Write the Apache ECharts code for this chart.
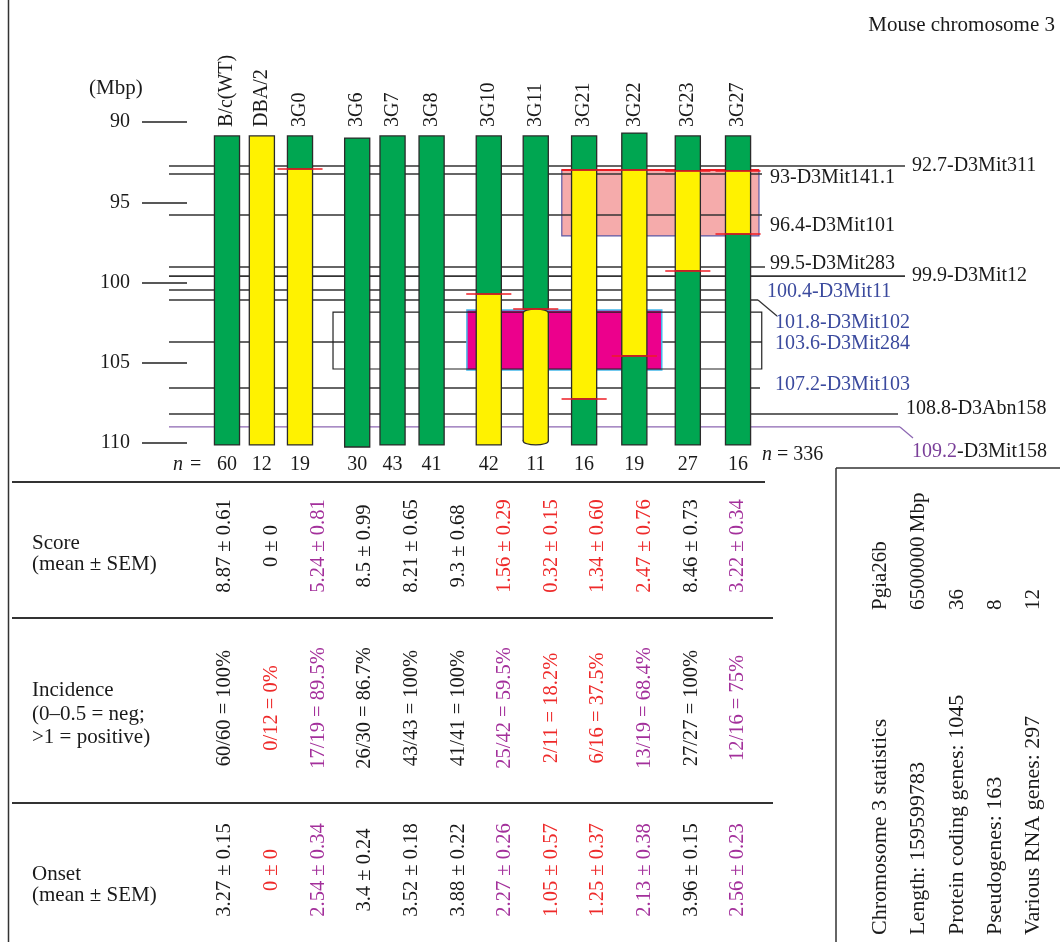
<!DOCTYPE html>
<html>
<head>
<meta charset="utf-8">
<script src="https://cdn.jsdelivr.net/npm/echarts@6/dist/echarts.min.js"></script>
<style>
  html, body { margin: 0; padding: 0; background: #fff; }
  #chart { width: 1060px; height: 942px; }
</style>
</head>
<body>
<div id="chart"></div>
<script>
// strains (lanes) and their sample sizes
const strains = ['B/c(WT)', 'DBA/2', '3G0', '3G6', '3G7', '3G8', '3G10', '3G11', '3G21', '3G22', '3G23', '3G27'];
const nMice = [60, 12, 19, 30, 43, 41, 42, 11, 16, 19, 27, 16];
const nTotal = 336;
// lane positions along the chromosome picture (lane units)
const lanePos = [0, 0.75, 1.57, 2.8, 3.56, 4.4, 5.63, 6.64, 7.68, 8.76, 9.91, 10.99];

// chromosome segments per strain: [from Mbp, to Mbp, origin] G = BALB/c, Y = DBA/2
const segments = [
  [[90.87, 110.12, 'G']],
  [[90.87, 110.12, 'Y']],
  [[90.87, 92.93, 'G'], [92.93, 110.12, 'Y']],
  [[91.0, 110.25, 'G']],
  [[90.87, 110.12, 'G']],
  [[90.87, 110.12, 'G']],
  [[90.87, 100.72, 'G'], [100.72, 110.12, 'Y']],
  [[90.87, 101.65, 'G'], [101.65, 110.12, 'Y']],
  [[90.87, 92.99, 'G'], [92.99, 107.26, 'Y'], [107.26, 110.12, 'G']],
  [[90.69, 92.99, 'G'], [92.99, 104.58, 'Y'], [104.58, 110.12, 'G']],
  [[90.87, 93.05, 'G'], [93.05, 99.28, 'Y'], [99.28, 110.12, 'G']],
  [[90.87, 93.05, 'G'], [93.05, 96.98, 'Y'], [96.98, 110.12, 'G']]
];

// microsatellite markers: label value, name, drawn position on the Mbp scale
const markerMbp = [92.7, 93, 96.4, 99.5, 99.9, 100.4, 101.8, 103.6, 107.2, 108.8, 109.2];
const markerNames = ['D3Mit311', 'D3Mit141.1', 'D3Mit101', 'D3Mit283', 'D3Mit12', 'D3Mit11',
  'D3Mit102', 'D3Mit284', 'D3Mit103', 'D3Abn158', 'D3Mit158'];
const markerDrawn = [92.74, 93.24, 95.79, 99.03, 99.6, 100.47, 101.09, 103.71, 106.57, 108.19, 109.0];

// shaded intervals: Mbp range and lane range
const regionMbp = [[92.99, 97.1], [101.71, 105.45], [101.84, 105.39]];
const regionLanes = [[7.2, 11.44], [5.16, 9.35], [2.28, 11.5]];

// table rows
const scoreMean = ['8.87', '0', '5.24', '8.5', '8.21', '9.3', '1.56', '0.32', '1.34', '2.47', '8.46', '3.22'];
const scoreSem = ['0.61', '0', '0.81', '0.99', '0.65', '0.68', '0.29', '0.15', '0.60', '0.76', '0.73', '0.34'];
const scoreClass = ['k', 'k', 'p', 'k', 'k', 'k', 'r', 'r', 'r', 'r', 'k', 'p'];
const positives = [60, 0, 17, 26, 43, 41, 25, 2, 6, 13, 27, 12];
const incClass = ['k', 'r', 'p', 'k', 'k', 'k', 'p', 'r', 'r', 'p', 'k', 'p'];
const onsetMean = ['3.27', '0', '2.54', '3.4', '3.52', '3.88', '2.27', '1.05', '1.25', '2.13', '3.96', '2.56'];
const onsetSem = ['0.15', '0', '0.34', '0.24', '0.18', '0.22', '0.26', '0.57', '0.37', '0.38', '0.15', '0.23'];
const onsetClass = ['k', 'r', 'p', 'k', 'k', 'k', 'p', 'r', 'r', 'p', 'k', 'p'];

// chromosome 3 statistics box
const statLabels = ['Chromosome 3 statistics', 'Length: 159599783', 'Protein coding genes: 1045', 'Pseudogenes: 163', 'Various RNA genes: 297'];
const statValues = ['Pgia26b', '6500000\u2009Mbp', '36', '8', '12'];

const FONT = '"Liberation Serif", "DejaVu Serif", serif';
const font = (size, style) => (style ? style + ' ' : '') + size + 'px ' + FONT;
const TXT = { k: '#1a1a1a', r: '#ee2a2a', p: '#a3309b' };
const LINE = '#333';
const BAR_W = 0.54;

const chart = echarts.init(document.getElementById('chart'));

// flatten segments into bars and crossover points
const barData = [];
const crossData = [];
segments.forEach((segs, i) => {
  segs.forEach((s, j) => {
    barData.push([lanePos[i], s[0], s[1], s[2] === 'G' ? 0 : 1, i]);
    if (j > 0) crossData.push([lanePos[i], s[0]]);
  });
});

const pct = (a, b) => String(Math.round(a / b * 1000) / 10);
const tableItems = [];
strains.forEach((s, i) => {
  tableItems.push({ col: i, row: 0, text: scoreMean[i] + ' \u00b1 ' + scoreSem[i], c: scoreClass[i] });
  tableItems.push({ col: i, row: 1, text: positives[i] + '/' + nMice[i] + ' = ' + pct(positives[i], nMice[i]) + '%', c: incClass[i] });
  tableItems.push({ col: i, row: 2, text: onsetMean[i] + ' \u00b1 ' + onsetSem[i], c: onsetClass[i] });
});

// label layout of the marker lines (pixels)
const LINE_X0 = 169;
const MARKER_LAYOUT = [
  { end: 905, lx: 912, dy: 0 },
  { end: 762, lx: 770, dy: 4 },
  { end: 762, lx: 770, dy: 11 },
  { end: 765, lx: 770, dy: -3 },
  { end: 905, lx: 912, dy: 0 },
  { end: 750, lx: 767, dy: 2, c: 'blue' },
  { end: 758, lx: 775, dy: 23, c: 'blue', leader: [777, 16] },
  { end: 762, lx: 775, dy: 2, c: 'blue' },
  { end: 760, lx: 775, dy: -3, c: 'blue' },
  { end: 898, lx: 906, dy: -5 },
  { end: 900, lx: 957, dy: 25, c: 'purple', leader: [913, 11] }
];
const MCOL = { blue: '#3b4a9e', purple: '#7a3f99' };

const regionRender = (params, api) => {
  const k = api.value(4);
  const a = api.coord([api.value(0), api.value(2)]);
  const b = api.coord([api.value(1), api.value(3)]);
  const shape = { x: a[0], y: a[1], width: b[0] - a[0], height: b[1] - a[1] };
  if (k === 0) {
    return {
      type: 'group', children: [
        { type: 'rect', shape, style: { fill: '#f5abab', stroke: '#5a5aa6', lineWidth: 1.2 } },
        { type: 'line', shape: { x1: a[0], y1: a[1], x2: b[0], y2: a[1] }, style: { stroke: '#ee1c24', lineWidth: 2 } }
      ]
    };
  }
  if (k === 1) return { type: 'rect', shape, style: { fill: '#ec008c', stroke: '#43b8ea', lineWidth: 1.5 } };
  return { type: 'rect', shape, style: { fill: 'none', stroke: '#222', lineWidth: 1.2 } };
};
const regionData = regionMbp.map((r, i) => [regionLanes[i][0], regionLanes[i][1], r[0], r[1], i]);

const gText = (text, x, y, size, align, style) => ({
  type: 'text', x, y,
  style: { text, font: font(size || 21, style), fill: '#1a1a1a', textAlign: align || 'left', textVerticalAlign: 'middle' }
});
const rot = (text, x, y, size) => ({
  type: 'text', x, y, rotation: Math.PI / 2,
  style: { text, font: font(size), fill: '#1a1a1a', textAlign: 'left', textVerticalAlign: 'middle' }
});
const hLine = (x1, x2, y, w) => ({ type: 'line', shape: { x1, y1: y, x2, y2: y }, style: { stroke: LINE, lineWidth: w || 1.6 } });
const vLine = (x, y1, y2, w) => ({ type: 'line', shape: { x1: x, y1, x2: x, y2 }, style: { stroke: LINE, lineWidth: w || 1.6 } });

const graphics = [
  vLine(8.5, 0, 942, 1.5),
  hLine(12, 765, 482, 2),
  hLine(12, 773, 618, 2),
  hLine(12, 773, 803, 2),
  vLine(836, 468, 942, 1.5),
  hLine(836, 1060, 468, 1.5),
  gText('Mouse chromosome 3', 1055, 25, 21, 'right'),
  gText('(Mbp)', 89, 88, 21),
  gText('n', 173, 465, 20, 'left', 'italic'),
  gText('=', 190, 465, 20),
  gText('n', 762, 455, 20, 'left', 'italic'),
  gText('= ' + nTotal, 777, 455, 20),
  gText('Score', 32, 543),
  gText('(mean \u00b1 SEM)', 32, 564),
  gText('Incidence', 32, 690),
  gText('(0\u20130.5 = neg;', 32, 714),
  gText('>1 = positive)', 32, 737),
  gText('Onset', 32, 874),
  gText('(mean \u00b1 SEM)', 32, 895)
];
const statX = [880, 918, 957, 995, 1033];
statLabels.forEach((t, i) => graphics.push(rot(t, statX[i], 935, 22)));
statValues.forEach((t, i) => graphics.push(rot(t, statX[i], 610, 21)));

const option = {
  animation: false,
  backgroundColor: '#fff',
  grid: [
    { left: 187, top: 122, width: 598, height: 321, containLabel: false, outerBoundsMode: 'none' },
    { left: 201.7, top: 465, width: 559.6, height: 437.4, containLabel: false, outerBoundsMode: 'none' }
  ],
  xAxis: [
    { gridIndex: 0, type: 'value', min: -0.86, max: 12, show: false, axisLine: { onZero: false } },
    { gridIndex: 1, type: 'category', data: strains, show: false }
  ],
  yAxis: [
    {
      gridIndex: 0, type: 'value', min: 90, max: 110, interval: 5, inverse: true, position: 'left',
      axisLine: { show: false, onZero: false }, splitLine: { show: false },
      axisTick: { show: true, inside: false, length: 45, lineStyle: { color: '#222', width: 1.5 } },
      axisLabel: { margin: 57, fontSize: 20, fontFamily: FONT, color: '#1a1a1a' }
    },
    { gridIndex: 1, type: 'value', min: -0.5, max: 2.2, inverse: true, show: false }
  ],
  graphic: graphics,
  series: [
    {
      // pink interval behind everything
      type: 'custom', xAxisIndex: 0, yAxisIndex: 0, z: 1, silent: true,
      data: regionData.filter(d => d[4] === 0), renderItem: regionRender
    },
    {
      type: 'custom', xAxisIndex: 0, yAxisIndex: 0, z: 2, silent: true,
      data: markerDrawn.map((v, i) => [0, v, i]),
      encode: { x: 0, y: 1 },
      renderItem: (params, api) => {
        const i = params.dataIndex;
        const lay = MARKER_LAYOUT[i];
        const y = api.coord([0, api.value(1)])[1];
        const stroke = lay.c === 'purple' ? '#8c66b2' : LINE;
        const kids = [{ type: 'line', shape: { x1: LINE_X0, y1: y, x2: lay.end, y2: y }, style: { stroke, lineWidth: lay.c === 'purple' ? 1.3 : 1.6 } }];
        if (lay.leader) {
          kids.push({ type: 'line', shape: { x1: lay.end, y1: y, x2: lay.leader[0], y2: y + lay.leader[1] }, style: { stroke, lineWidth: 1.2 } });
        }
        const fill = lay.c ? MCOL[lay.c] : '#1a1a1a';
        if (lay.c === 'purple') {
          kids.push({ type: 'text', style: { text: String(markerMbp[i]), x: lay.lx, y: y + lay.dy, font: font(20), fill, textAlign: 'right', textVerticalAlign: 'middle' } });
          kids.push({ type: 'text', style: { text: '-' + markerNames[i], x: lay.lx, y: y + lay.dy, font: font(20), fill: '#1a1a1a', textAlign: 'left', textVerticalAlign: 'middle' } });
        } else {
          kids.push({ type: 'text', style: { text: markerMbp[i] + '-' + markerNames[i], x: lay.lx, y: y + lay.dy, font: font(20), fill, textAlign: 'left', textVerticalAlign: 'middle' } });
        }
        return { type: 'group', children: kids };
      }
    },
    {
      // magenta interval and open box
      type: 'custom', xAxisIndex: 0, yAxisIndex: 0, z: 3, silent: true,
      data: regionData.filter(d => d[4] !== 0), renderItem: regionRender
    },
    {
      // chromosome bars
      type: 'custom', xAxisIndex: 0, yAxisIndex: 0, z: 4, silent: true,
      data: barData,
      encode: { x: 0, y: [1, 2] },
      renderItem: (params, api) => {
        const lane = api.value(0);
        const p0 = api.coord([lane, api.value(1)]);
        const p1 = api.coord([lane, api.value(2)]);
        const w = api.size([BAR_W, 0])[0];
        const fill = api.value(3) === 0 ? '#00a651' : '#fff200';
        const style = { fill, stroke: '#2b2b2b', lineWidth: 1.3 };
        const x = p0[0] - w / 2;
        if (strains[api.value(4)] === '3G11' && api.value(3) === 1) {
          const ry = 4, t = p0[1] + ry, b = p1[1] - ry;
          return {
            type: 'group', children: [
              { type: 'ellipse', shape: { cx: p0[0], cy: t, rx: w / 2, ry }, style },
              { type: 'ellipse', shape: { cx: p0[0], cy: b, rx: w / 2, ry }, style },
              { type: 'rect', shape: { x, y: t, width: w, height: b - t }, style: { fill } },
              { type: 'line', shape: { x1: x, y1: t, x2: x, y2: b }, style: { stroke: '#2b2b2b', lineWidth: 1.3 } },
              { type: 'line', shape: { x1: x + w, y1: t, x2: x + w, y2: b }, style: { stroke: '#2b2b2b', lineWidth: 1.3 } }
            ]
          };
        }
        return { type: 'rect', shape: { x, y: p0[1], width: w, height: p1[1] - p0[1] }, style };
      }
    },
    {
      // crossover points
      type: 'custom', xAxisIndex: 0, yAxisIndex: 0, z: 5, silent: true,
      data: crossData,
      renderItem: (params, api) => {
        const p = api.coord([api.value(0), api.value(1)]);
        const w = api.size([BAR_W, 0])[0];
        return { type: 'line', shape: { x1: p[0] - w / 2 - 10, y1: p[1], x2: p[0] + w / 2 + 10, y2: p[1] }, style: { stroke: '#ee1c24', lineWidth: 1.6 } };
      }
    },
    {
      // strain names and n per lane
      type: 'custom', xAxisIndex: 0, yAxisIndex: 0, z: 6, silent: true,
      data: lanePos.map((l, i) => [l, 90, i]),
      encode: { x: 0, y: 1 },
      renderItem: (params, api) => {
        const i = params.dataIndex;
        const top = api.coord([api.value(0), 90]);
        const bot = api.coord([api.value(0), 110]);
        return {
          type: 'group', children: [
            { type: 'text', x: top[0], y: top[1] + 5, rotation: Math.PI / 2, style: { text: strains[i], x: 0, y: 0, font: font(20), fill: '#1a1a1a', textAlign: 'left', textVerticalAlign: 'middle' } },
            { type: 'text', style: { text: String(nMice[i]), x: bot[0], y: bot[1] + 22, font: font(20), fill: '#1a1a1a', textAlign: 'center', textVerticalAlign: 'middle' } }
          ]
        };
      }
    },
    {
      // table values
      type: 'custom', xAxisIndex: 1, yAxisIndex: 1, z: 6, silent: true,
      data: tableItems.map(t => [t.col, t.row]),
      renderItem: (params, api) => {
        const it = tableItems[params.dataIndex];
        const p = api.coord([api.value(0), api.value(1)]);
        return {
          type: 'text', x: p[0], y: p[1], rotation: Math.PI / 2,
          style: { text: it.text, x: 0, y: 0, font: font(20.5), fill: TXT[it.c], textAlign: 'center', textVerticalAlign: 'middle' }
        };
      }
    }
  ]
};
chart.setOption(option);
</script>
</body>
</html>
